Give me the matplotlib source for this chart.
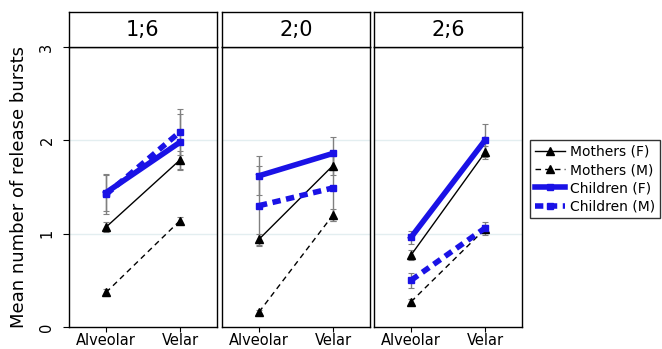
import matplotlib
matplotlib.use("Agg")
import matplotlib.pyplot as plt
from matplotlib.lines import Line2D

ages = ["1;6", "2;0", "2;6"]
places = ["Alveolar", "Velar"]
series = ["Mothers (F)", "Mothers (M)", "Children (F)", "Children (M)"]

# mean bursts per age panel: [alveolar, velar]
mothers_f = [[1.07, 1.79], [0.94, 1.73], [0.77, 1.87]]
mothers_m = [[0.37, 1.14], [0.16, 1.20], [0.27, 1.05]]
children_f = [[1.44, 1.98], [1.62, 1.86], [0.96, 2.00]]
children_m = [[1.42, 2.09], [1.30, 1.49], [0.50, 1.06]]

# symmetric error half-widths
mothers_f_err = [[0.05, 0.10], [0.06, 0.10], [0.05, 0.07]]
mothers_m_err = [[0.04, 0.04], [0.02, 0.06], [0.03, 0.04]]
children_f_err = [[0.20, 0.30], [0.21, 0.18], [0.07, 0.18]]
children_m_err = [[0.21, 0.25], [0.43, 0.35], [0.08, 0.07]]

blue = "#1a12e6"
styles = [
    dict(color="black", lw=1.0, ls="-", marker="^", ms=6, data=mothers_f, err=mothers_f_err),
    dict(color="black", lw=1.0, ls=(0, (4, 3)), marker="^", ms=6, data=mothers_m, err=mothers_m_err),
    dict(color=blue, lw=4.0, ls="-", marker="s", ms=5, data=children_f, err=children_f_err),
    dict(color=blue, lw=4.0, ls=(0, (1.5, 1.0)), marker="s", ms=5, data=children_m, err=children_m_err),
]

fig = plt.figure(figsize=(6.62, 3.49), dpi=100)
W, H = 662, 349
lefts = [69, 222, 374]
pw = 148
top, bottom, strip_top = 47, 327, 12

for i, age in enumerate(ages):
    ax = fig.add_axes([lefts[i] / W, 1 - bottom / H, pw / W, (bottom - top) / H])
    for y in (1, 2):
        ax.axhline(y, color="#e3eef0", lw=1.0, zorder=0)
    xs = list(range(len(places)))
    for st in styles:
        ax.errorbar(xs, st["data"][i], yerr=st["err"][i], fmt="none",
                    ecolor="#808080", elinewidth=1.0, capsize=2, capthick=0.8, zorder=1)
    for st in styles:
        ax.plot(xs, st["data"][i], color=st["color"], lw=st["lw"], ls=st["ls"],
                marker=st["marker"], ms=st["ms"], mfc=st["color"], mec=st["color"], zorder=3)
    ax.set_xlim(-0.5, 1.5)
    ax.set_ylim(0, 3)
    ax.set_xticks(xs)
    ax.set_xticklabels(places, fontsize=10.5)
    ax.tick_params(axis="x", direction="out", length=3.5, width=0.8, pad=1)
    if i == 0:
        ax.set_yticks([0, 1, 2, 3])
        ax.set_yticklabels(["0", "1", "2", "3"], fontsize=10.5, rotation=90, va="center")
        ax.tick_params(axis="y", direction="out", length=4.5, width=0.8, pad=6)
        ax.set_ylabel("Mean number of release bursts", fontsize=13)
        ax.yaxis.set_label_coords(-0.28, 0.5)
    else:
        ax.set_yticks([])
    for sp in ax.spines.values():
        sp.set_linewidth(1.0)

    strip = fig.add_axes([lefts[i] / W, 1 - top / H, pw / W, (top - strip_top) / H])
    strip.set_xticks([])
    strip.set_yticks([])
    for sp in strip.spines.values():
        sp.set_linewidth(1.0)
    strip.text(0.5, 0.5, age, ha="center", va="center", fontsize=15, transform=strip.transAxes)

handles = [Line2D([], [], color=st["color"], lw=st["lw"], ls=st["ls"],
                  marker=st["marker"], ms=st["ms"]) for st in styles]
fig.legend(handles, series, loc="upper left", bbox_to_anchor=(530 / W, 1 - 140 / H),
           fontsize=10, frameon=True, fancybox=False, edgecolor="black",
           handlelength=2.2, borderpad=0.35, labelspacing=0.3, handletextpad=0.3,
           borderaxespad=0)

fig.savefig("out.png", dpi=100)
